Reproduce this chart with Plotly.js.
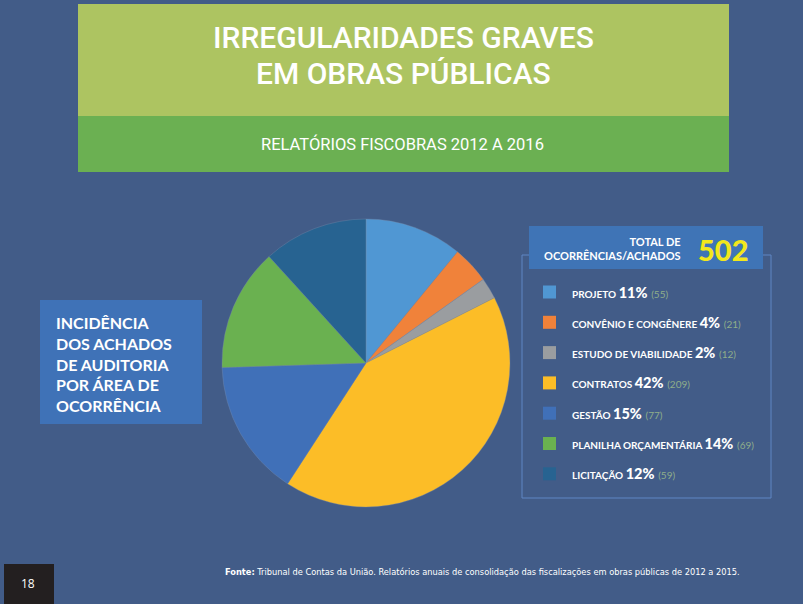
<!DOCTYPE html>
<html>
<head>
<meta charset="utf-8">
<script src="https://cdn.plot.ly/plotly-3.0.1.min.js"></script>
<style>html,body{margin:0;padding:0;background:#425c88;}#chart{width:803px;height:604px;}</style>
</head>
<body>
<div id="chart"></div>
<script>
// ---- data ----
const categories = ["PROJETO", "CONVÊNIO E CONGÊNERE", "ESTUDO DE VIABILIDADE", "CONTRATOS", "GESTÃO", "PLANILHA ORÇAMENTÁRIA", "LICITAÇÃO"];
const counts = [55, 21, 12, 209, 77, 69, 59];
const percentLabels = ["11%", "4%", "2%", "42%", "15%", "14%", "12%"];
const sliceColors = ["#5097d3", "#f0823a", "#9a9da0", "#fcbd27", "#4070b8", "#6ab150", "#276391"];
const totalLabel = "502";
const titleLines = ["IRREGULARIDADES GRAVES", "EM OBRAS PÚBLICAS"];
const subtitle = "RELATÓRIOS FISCOBRAS 2012 A 2016";
const sideLines = ["INCIDÊNCIA", "DOS ACHADOS", "DE AUDITORIA", "POR ÁREA DE", "OCORRÊNCIA"];
const sourceText = "<b>Fonte:</b> Tribunal de Contas da União. Relatórios anuais de consolidação das fiscalizações em obras públicas de 2012 a 2015.";
const pageNumber = "18";

// ---- helpers ----
const W = 803, H = 604;
const px = x => x / W;
const py = y => 1 - y / H;
const rect = (x0, y0, x1, y1, fill, line) => ({
  type: "rect", xref: "paper", yref: "paper",
  x0: px(x0), x1: px(x1), y0: py(y1), y1: py(y0),
  fillcolor: fill || "rgba(0,0,0,0)",
  line: line || {width: 0}, layer: "below"
});
const txt = (x, y, text, size, opts) => Object.assign({
  xref: "paper", yref: "paper", x: px(x), y: py(y), text: text,
  showarrow: false, xanchor: "center", yanchor: "middle",
  font: {family: "Lato, 'Open Sans', sans-serif", size: size, color: "#ffffff"}
}, opts || {});

const cx = 366, cy = 363, r = 144;

const shapes = [
  rect(78, 4, 729, 116, "#adc461"),
  rect(78, 116, 729, 172, "#6bb052"),
  rect(40, 300, 202, 424, "#3f72b7"),
  rect(522, 255, 771, 498, null, {width: 1, color: "#5f86c4"}),
  rect(529, 226, 763, 269, "#3f74b6"),
  rect(4, 564, 54, 604, "#231f20")
];

const annotations = [
  txt(403, 37, titleLines[0], 30, {font: {family: "Roboto, sans-serif", size: 30, weight: 500, color: "#ffffff"}}),
  txt(403, 73, titleLines[1], 30, {font: {family: "Roboto, sans-serif", size: 30, weight: 500, color: "#ffffff"}}),
  txt(402, 144, subtitle, 16.5, {font: {family: "Roboto, sans-serif", size: 16.5, color: "#ffffff"}}),
  txt(54, 364, sideLines.map(s => "<b>" + s + "</b>").join("<br>"), 16, {
    xanchor: "left", align: "left",
    font: {family: "Lato, sans-serif", size: 16, weight: 900, color: "#ffffff"}
  }),
  txt(683, 248, "<b>TOTAL DE<br>OCORRÊNCIAS/ACHADOS</b>", 11, {xanchor: "right", align: "right",
    font: {family: "Lato, sans-serif", size: 11, color: "#ffffff"}}),
  txt(723, 249, totalLabel, 29, {font: {family: "Lato, sans-serif", size: 29, weight: 900, color: "#f2e71c"}}),
  txt(223, 571, sourceText, 9.2, {xanchor: "left",
    font: {family: "'Liberation Sans Narrow', 'DejaVu Sans Condensed', sans-serif", size: 9.2, color: "#ffffff"}}),
  txt(28, 583, pageNumber, 12, {font: {family: "'Open Sans', sans-serif", size: 12, color: "#ffffff"}})
];

const legendY0 = 292, legendStep = 30.3;
categories.forEach((c, i) => {
  const y = legendY0 + i * legendStep;
  shapes.push(Object.assign(rect(543, y - 6.5, 556, y + 6.5, sliceColors[i]), {layer: "above"}));
  annotations.push(txt(570, y, "<b><span style='font-size:10px'>" + c + " </span><span style='font-weight:900'>" + percentLabels[i] +
    "</span></b> <span style='font-size:10px;color:#8fae8a'>(" + counts[i] + ")</span>", 14.5, {
      xanchor: "left", font: {family: "Lato, sans-serif", size: 14.5, color: "#ffffff"}
  }));
});

const data = [{
  type: "pie",
  labels: categories,
  values: counts,
  sort: false,
  direction: "clockwise",
  rotation: 0,
  textinfo: "none",
  hoverinfo: "label+value+percent",
  marker: {colors: sliceColors, line: {width: 0.6, color: "rgba(120,140,170,0.6)"}},
  domain: {x: [px(cx - r), px(cx + r)], y: [py(cy + r), py(cy - r)]},
  showlegend: false
}];

const layout = {
  width: W, height: H,
  margin: {l: 0, r: 0, t: 0, b: 0},
  paper_bgcolor: "#425c88",
  plot_bgcolor: "#425c88",
  showlegend: false,
  shapes: shapes,
  annotations: annotations
};

Plotly.newPlot("chart", data, layout, {displayModeBar: false, staticPlot: true});
</script>
</body>
</html>
